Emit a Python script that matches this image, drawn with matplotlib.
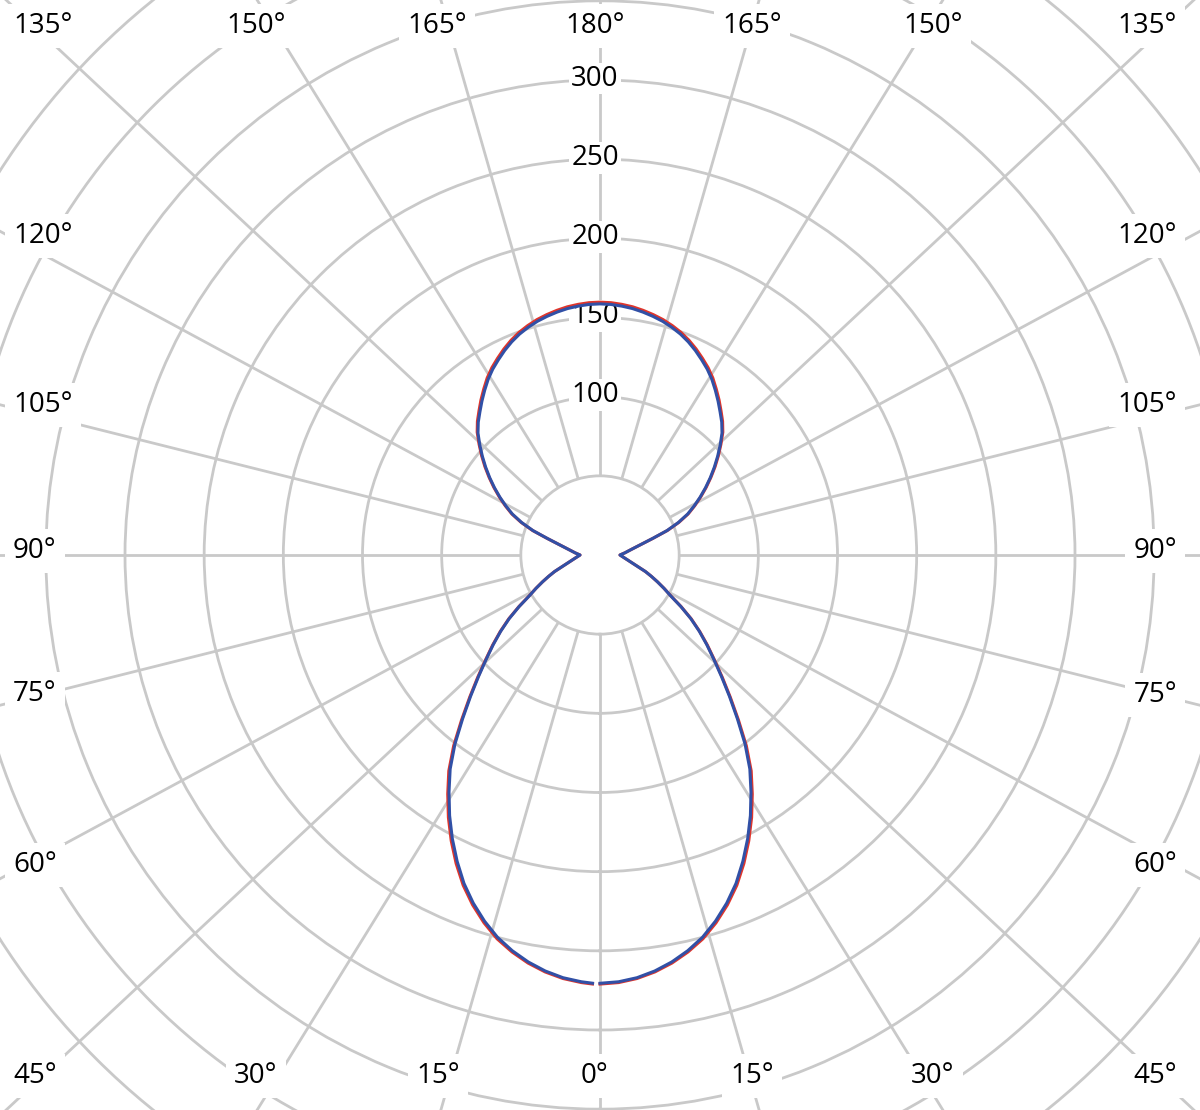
import numpy as np
import matplotlib
matplotlib.use("Agg")
import matplotlib.pyplot as plt
from matplotlib.transforms import offset_copy

plt.rcParams['font.family'] = ['Open Sans', 'DejaVu Sans']

# luminous intensity (cd) against gamma angle
gamma = np.arange(0, 180.1, 2.5)
c0_c180 = [271, 270.3, 268.5, 265.6, 261.7, 256.8, 251, 243.6, 235.2, 225.8,
           215, 203.5, 191.5, 179, 166.5, 151.8, 136, 121.8, 109.2, 98,
           88.5, 79.4, 70.4, 60.8, 51.7, 45.6, 40, 35, 30.5, 25.7,
           22.2, 19.6, 17.6, 16, 14.6, 13.5, 12.6, 14, 15.8, 17.6,
           20, 23.3, 28, 35.2, 45.4, 54, 61.5, 67.5, 73.5, 79.5,
           85.5, 91.6, 97.6, 103.6, 109.7, 114.6, 118.9, 123.5, 128, 132.6,
           136.6, 140.1, 143.6, 146.8, 149.6, 151.9, 153.9, 155.5, 156.9, 158.1,
           158.9, 159.5, 159.7]
c90_c270 = [270.5, 269.8, 268, 265, 261, 256, 250, 242.5, 234, 224.5,
            213.5, 202, 190, 177.5, 165, 150.5, 135, 121, 108.5, 97.5,
            88, 79, 70, 60.5, 51.5, 45.5, 40, 35, 30.5, 25.7,
            22.2, 19.6, 17.6, 16, 14.6, 13.5, 12.6, 14, 15.8, 17.6,
            20, 23.3, 28, 35, 45, 53.5, 61, 67, 73, 79,
            85, 91, 97, 103, 109, 113.8, 118, 122.5, 127, 131.5,
            135.5, 139, 142.5, 145.7, 148.5, 150.8, 152.8, 154.4, 155.8, 157,
            157.8, 158.4, 158.6]

ring_values = [50, 100, 150, 200, 250, 300, 350, 400, 450]
ring_labels = [100, 150, 200, 250, 300]
spoke_angles = np.arange(0, 360, 15)

# angle captions round the border: text, x px, y px, alignment
border_labels = [
    ('135°', 13, 23, 'left'), ('150°', 256, 23, 'center'), ('165°', 437, 23, 'center'),
    ('180°', 595, 23, 'center'), ('165°', 752, 23, 'center'), ('150°', 933, 23, 'center'),
    ('135°', 1177, 23, 'right'),
    ('120°', 13, 233, 'left'), ('105°', 13, 402, 'left'), ('90°', 13, 548, 'left'),
    ('75°', 13, 691, 'left'), ('60°', 13, 862, 'left'), ('45°', 13, 1073, 'left'),
    ('120°', 1177, 233, 'right'), ('105°', 1177, 402, 'right'), ('90°', 1177, 548, 'right'),
    ('75°', 1177, 692, 'right'), ('60°', 1177, 862, 'right'), ('45°', 1177, 1073, 'right'),
    ('30°', 256, 1073, 'center'), ('15°', 438, 1073, 'center'), ('0°', 595, 1073, 'center'),
    ('15°', 752, 1073, 'center'), ('30°', 933, 1073, 'center'),
]

W, H = 1200, 1110
PX_PER_CD = 475 / 300
RMAX = 520
STRETCH = 1.07   # spokes in the source are drawn slightly widened
GRID = '#c9c9c9'
RED = '#e0352b'
BLUE = '#3150a6'

fig = plt.figure(figsize=(W / 100, H / 100), dpi=100)
fig.patch.set_facecolor('white')

rad_px = RMAX * PX_PER_CD
ax = fig.add_axes([0.5 - rad_px / W, 0.5 - rad_px / H, 2 * rad_px / W, 2 * rad_px / H],
                  projection='polar')
ax.set_theta_zero_location('S')
ax.set_theta_direction(1)
ax.set_ylim(0, RMAX)
ax.set_xticks([])
ax.set_yticks(ring_values)
ax.set_yticklabels([])
ax.yaxis.grid(True, color=GRID, lw=2.0)
ax.xaxis.grid(False)
ax.set_axisbelow(True)
ax.spines['polar'].set_visible(False)

for g in np.radians(spoke_angles):
    phi = np.arctan2(STRETCH * np.sin(g), np.cos(g))
    ax.plot([phi, phi], [50, RMAX], color=GRID, lw=2.0, zorder=1, solid_capstyle='butt')

trans = offset_copy(ax.transData, fig=fig, x=-5, y=-5.5, units='dots')
for v in ring_labels:
    ax.text(np.pi, v, str(v), transform=trans, ha='center', va='baseline', fontsize=20,
            bbox=dict(facecolor='white', edgecolor='none', pad=1.5), zorder=3)

# right half is gamma, left half mirrored; the source leaves the last degree open
theta = np.radians(np.r_[gamma, 360 - gamma[-2:0:-1], 359])
for vals, col, z in [(c0_c180, RED, 4), (c90_c270, BLUE, 5)]:
    vals = np.asarray(vals)
    r = np.r_[vals, vals[-2:0:-1], vals[0]]
    ax.plot(theta, r, color=col, lw=2.2, zorder=z)

for txt, x, y, ha in border_labels:
    fig.text(x / W, 1 - (y + 10) / H, txt, ha=ha, va='baseline', fontsize=20,
             bbox=dict(facecolor='white', edgecolor='none', pad=6))

fig.savefig('out.png', dpi=100, facecolor='white')
